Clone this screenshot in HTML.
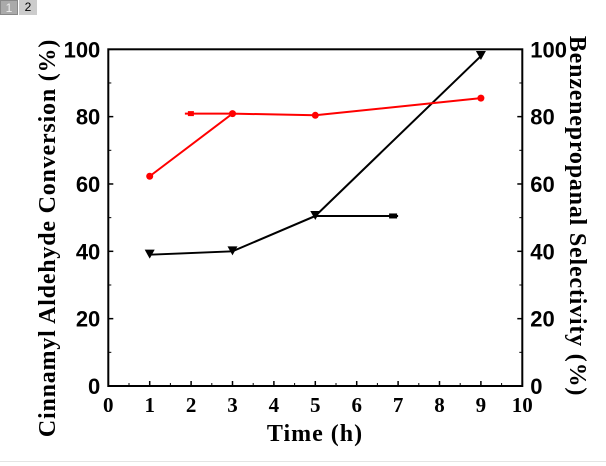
<!DOCTYPE html>
<html><head><meta charset="utf-8"><style>
body{margin:0;background:#fff;width:606px;height:466px;overflow:hidden;position:relative}
.tab{position:absolute;top:0;height:15px;width:18px;font:12px "Liberation Sans",sans-serif;text-align:center;line-height:15px}
</style></head><body>
<div class="tab" style="left:0;background:#aaa;color:#eee;border:1px solid #888;box-sizing:border-box">1</div>
<div class="tab" style="left:19px;background:#ccc;color:#000">2</div>
<svg id="c" width="606" height="466" style="position:absolute;left:0;top:0"></svg>
<div style="position:absolute;left:0;top:461px;width:606px;height:1px;background:#e4e4e4"></div>
<script>
const xTicks=[0,1,2,3,4,5,6,7,8,9,10];
const yTicks=[0,20,40,60,80,100];
const times=[1,3,5,9];
const conversion=[39,40,50.5,98];
const selectivity=[62.3,80.9,80.4,85.5];
const convArrow=[5,7];
const selArrow=[3,1.85];
const L=108.3,R=522.3,T=49.3,B=386;
const sx=v=>L+(v-0)/(10-0)*(R-L);
const sy=v=>B-(v-0)/100*(B-T);
const svg=document.getElementById('c');
const NS='http://www.w3.org/2000/svg';
function mk(tag,attrs,parent){const e=document.createElementNS(NS,tag);for(const k in attrs)e.setAttribute(k,attrs[k]);(parent||svg).appendChild(e);return e;}
let e;
e=mk('rect',{x:L,y:T,width:R-L,height:B-T,fill:'none',stroke:'#000','stroke-width':2});


xTicks.forEach(t=>{
  e=mk('line',{x1:sx(t),x2:sx(t),y1:B,y2:B-5,stroke:'#000','stroke-width':1.5});
  
  
  if(t<10){e=mk('line',{x1:sx(t+0.5),x2:sx(t+0.5),y1:B,y2:B-3,stroke:'#000','stroke-width':1});
  
  }
  e=mk('text',{x:sx(t),y:B+26,'text-anchor':'middle','font-family':'Liberation Serif, serif','font-weight':'bold','font-size':21});
  e.textContent=t;
  
  
});
yTicks.forEach(t=>{
  [[L,L+5],[R,R-5]].forEach(p=>{
    e=mk('line',{x1:p[0],x2:p[1],y1:sy(t),y2:sy(t),stroke:'#000','stroke-width':1.5});
    
    
  });
  if(t<100)[[L,L+3],[R,R-3]].forEach(p=>{
    e=mk('line',{x1:p[0],x2:p[1],y1:sy(t+10),y2:sy(t+10),stroke:'#000','stroke-width':1});
    
    
  });
  e=mk('text',{x:L-8,y:sy(t)+8,'text-anchor':'end','font-family':'Liberation Sans, sans-serif','font-weight':'bold','font-size':22});
  e.textContent=t;
  
  
  e=mk('text',{x:R+8,y:sy(t)+8,'text-anchor':'start','font-family':'Liberation Sans, sans-serif','font-weight':'bold','font-size':22});
  e.textContent=t;
  
  
});
e=mk('text',{x:315,y:441,'text-anchor':'middle','font-family':'Liberation Serif, serif','font-weight':'bold','font-size':24,'letter-spacing':1});
e.textContent='Time (h)';


e=mk('text',{x:0,y:0,'text-anchor':'middle','font-family':'Liberation Serif, serif','font-weight':'bold','font-size':24,'letter-spacing':0.8,transform:'translate(55,238) rotate(-90)'});
e.textContent='Cinnamyl Aldehyde Conversion (%)';


e=mk('text',{x:0,y:0,'text-anchor':'middle','font-family':'Liberation Serif, serif','font-weight':'bold','font-size':24,'letter-spacing':0.8,transform:'translate(570,216) rotate(90)'});
e.textContent='Benzenepropanal Selectivity (%)';


// series
e=mk('polyline',{points:times.map((t,i)=>sx(t)+','+sy(conversion[i])).join(' '),fill:'none',stroke:'#000','stroke-width':2});


times.forEach((t,i)=>{const x=sx(t),y=sy(conversion[i]);
  e=mk('polygon',{points:`${x-5},${y-5} ${x+5},${y-5} ${x},${y+4}`,fill:'#000'});
  
  
});
e=mk('polyline',{points:times.map((t,i)=>sx(t)+','+sy(selectivity[i])).join(' '),fill:'none',stroke:'#f00','stroke-width':2});


times.forEach((t,i)=>{
  e=mk('circle',{cx:sx(t),cy:sy(selectivity[i]),r:3.5,fill:'#f00'});
  
  
});
// arrows
const ay=sy(conversion[2]);
e=mk('line',{x1:sx(convArrow[0]),x2:sx(convArrow[1]),y1:ay,y2:ay,stroke:'#000','stroke-width':2});


e=mk('rect',{x:sx(convArrow[1])-9,y:ay-2.5,width:8,height:5,fill:'#000'});


const ry=sy(selectivity[1]);
e=mk('line',{x1:sx(selArrow[0]),x2:sx(selArrow[1]),y1:ry,y2:ry,stroke:'#f00','stroke-width':2});


e=mk('rect',{x:sx(selArrow[1])+3,y:ry-2.5,width:6,height:5,fill:'#f00'});


</script>
</body></html>
